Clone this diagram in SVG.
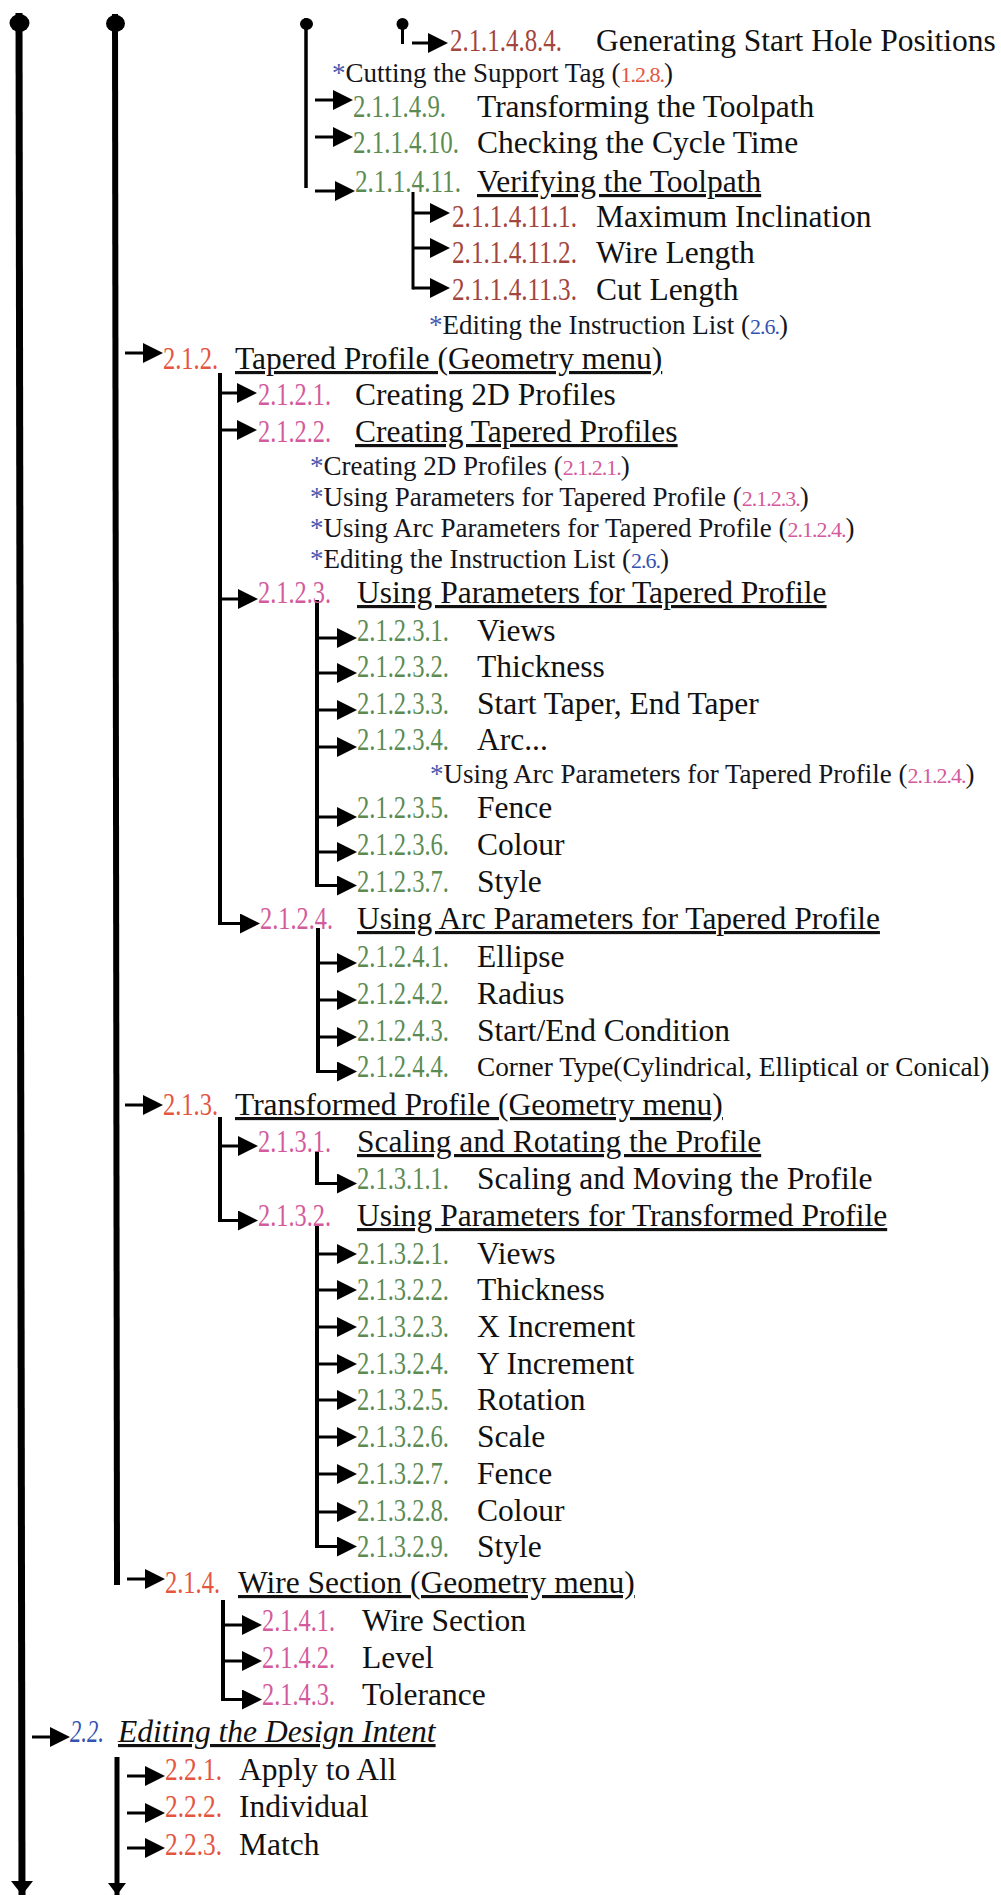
<svg xmlns="http://www.w3.org/2000/svg" width="1001" height="1895" viewBox="0 0 1001 1895">
  <style>
    text { font-family: "Liberation Serif", "Times New Roman", serif; }
    .t { font-size: 31.5px; fill: #111; }
    .u { text-decoration: underline; }
    .i { font-style: italic; }
    .s { font-size: 27px; fill: #151520; }
    .sn { font-size: 22px; letter-spacing: -1px; }
    .sm { font-size: 27.3px; fill: #111; }
    .n { font-size: 31.5px; }
    .st { fill: #4a58b0; }
    .br { fill: #a2453c; }
    .gr { fill: #5b8b52; }
    .rd { fill: #e4553f; }
    .pk { fill: #d35a9c; }
    .bl { fill: #3552b0; }
    .ar { stroke: #000; stroke-width: 3; fill: none; }
    .v { stroke: #000; fill: none; }
  </style>
  <defs>
    <marker id="ah" viewBox="0 0 20 20" refX="10" refY="10" markerWidth="20" markerHeight="20" markerUnits="userSpaceOnUse" orient="auto">
      <path d="M0,0 L20,10 L0,20 z" fill="#000"/>
    </marker>
  </defs>

  <rect width="1001" height="1895" fill="#fff"/>

  <!-- connectors: trunks, branches and arrows -->
  <g id="connectors">
    <!-- trunk caps -->
    <ellipse cx="19.5" cy="23" rx="10" ry="9" fill="#000"/>
    <ellipse cx="115.5" cy="23.5" rx="9.5" ry="8.5" fill="#000"/>
    <ellipse cx="306.5" cy="24" rx="6.5" ry="6" fill="#000"/>
    <ellipse cx="402.5" cy="24" rx="6" ry="6" fill="#000"/>
    <line class="v" x1="402.5" y1="24" x2="402.5" y2="44" stroke-width="3"/>

    <!-- vertical trunks -->
    <line class="v" x1="19" y1="13" x2="22" y2="1895" stroke-width="7"/>
    <line class="v" x1="115" y1="14" x2="117" y2="1585" stroke-width="6"/>
    <line class="v" x1="306" y1="18" x2="306" y2="188" stroke-width="3.5"/>
    <line class="v" x1="413" y1="192" x2="413" y2="289.5" stroke-width="3"/>
    <line class="v" x1="220" y1="373" x2="220" y2="925" stroke-width="4"/>
    <line class="v" x1="317" y1="600" x2="317" y2="887" stroke-width="4"/>
    <line class="v" x1="318" y1="928" x2="318" y2="1073" stroke-width="4"/>
    <line class="v" x1="220" y1="1117" x2="220" y2="1222" stroke-width="4"/>
    <line class="v" x1="317" y1="1152" x2="317" y2="1185" stroke-width="4"/>
    <line class="v" x1="317" y1="1226" x2="317" y2="1548" stroke-width="4"/>
    <line class="v" x1="223" y1="1600" x2="223" y2="1701" stroke-width="4"/>
    <line class="v" x1="117" y1="1757" x2="117" y2="1895" stroke-width="5"/>

    <!-- trunk ends -->
    <polygon points="11,1881 33,1881 22,1895" fill="#000"/>
    <polygon points="108,1883 126,1883 117,1895" fill="#000"/>

    <!-- arrows -->
    <line class="ar" x1="412" y1="43" x2="438" y2="43" marker-end="url(#ah)"/>
    <line class="ar" x1="315" y1="100" x2="343" y2="100" marker-end="url(#ah)"/>
    <line class="ar" x1="315" y1="137" x2="343" y2="137" marker-end="url(#ah)"/>
    <line class="ar" x1="315" y1="191" x2="345" y2="191" marker-end="url(#ah)"/>
    <line class="ar" x1="413" y1="213" x2="440" y2="213" marker-end="url(#ah)"/>
    <line class="ar" x1="413" y1="248" x2="440" y2="248" marker-end="url(#ah)"/>
    <line class="ar" x1="413" y1="288" x2="440" y2="288" marker-end="url(#ah)"/>

    <line class="ar" x1="125" y1="353" x2="153" y2="353" marker-end="url(#ah)"/>
    <line class="ar" x1="220" y1="393" x2="247" y2="393" marker-end="url(#ah)"/>
    <line class="ar" x1="220" y1="430" x2="247" y2="430" marker-end="url(#ah)"/>
    <line class="ar" x1="220" y1="599" x2="248" y2="599" marker-end="url(#ah)"/>
    <line class="ar" x1="317" y1="638" x2="347" y2="638" marker-end="url(#ah)"/>
    <line class="ar" x1="317" y1="673" x2="347" y2="673" marker-end="url(#ah)"/>
    <line class="ar" x1="317" y1="710" x2="347" y2="710" marker-end="url(#ah)"/>
    <line class="ar" x1="317" y1="747" x2="347" y2="747" marker-end="url(#ah)"/>
    <line class="ar" x1="317" y1="817" x2="347" y2="817" marker-end="url(#ah)"/>
    <line class="ar" x1="317" y1="852" x2="347" y2="852" marker-end="url(#ah)"/>
    <line class="ar" x1="317" y1="885.5" x2="347" y2="885.5" marker-end="url(#ah)"/>
    <line class="ar" x1="220" y1="923.5" x2="250" y2="923.5" marker-end="url(#ah)"/>
    <line class="ar" x1="318" y1="963" x2="347" y2="963" marker-end="url(#ah)"/>
    <line class="ar" x1="318" y1="1000" x2="347" y2="1000" marker-end="url(#ah)"/>
    <line class="ar" x1="318" y1="1037" x2="347" y2="1037" marker-end="url(#ah)"/>
    <line class="ar" x1="318" y1="1071.5" x2="347" y2="1071.5" marker-end="url(#ah)"/>

    <line class="ar" x1="125" y1="1105" x2="153" y2="1105" marker-end="url(#ah)"/>
    <line class="ar" x1="220" y1="1146" x2="248" y2="1146" marker-end="url(#ah)"/>
    <line class="ar" x1="317" y1="1183.5" x2="347" y2="1183.5" marker-end="url(#ah)"/>
    <line class="ar" x1="220" y1="1220.5" x2="248" y2="1220.5" marker-end="url(#ah)"/>
    <line class="ar" x1="317" y1="1254" x2="347" y2="1254" marker-end="url(#ah)"/>
    <line class="ar" x1="317" y1="1290" x2="347" y2="1290" marker-end="url(#ah)"/>
    <line class="ar" x1="317" y1="1327" x2="347" y2="1327" marker-end="url(#ah)"/>
    <line class="ar" x1="317" y1="1364" x2="347" y2="1364" marker-end="url(#ah)"/>
    <line class="ar" x1="317" y1="1400" x2="347" y2="1400" marker-end="url(#ah)"/>
    <line class="ar" x1="317" y1="1437" x2="347" y2="1437" marker-end="url(#ah)"/>
    <line class="ar" x1="317" y1="1474" x2="347" y2="1474" marker-end="url(#ah)"/>
    <line class="ar" x1="317" y1="1512" x2="347" y2="1512" marker-end="url(#ah)"/>
    <line class="ar" x1="317" y1="1546.5" x2="347" y2="1546.5" marker-end="url(#ah)"/>

    <line class="ar" x1="127" y1="1579" x2="155" y2="1579" marker-end="url(#ah)"/>
    <line class="ar" x1="223" y1="1625" x2="252" y2="1625" marker-end="url(#ah)"/>
    <line class="ar" x1="223" y1="1661" x2="252" y2="1661" marker-end="url(#ah)"/>
    <line class="ar" x1="223" y1="1699.5" x2="252" y2="1699.5" marker-end="url(#ah)"/>

    <line class="ar" x1="32" y1="1737" x2="60" y2="1737" marker-end="url(#ah)"/>
    <line class="ar" x1="127" y1="1776" x2="155" y2="1776" marker-end="url(#ah)"/>
    <line class="ar" x1="127" y1="1813" x2="155" y2="1813" marker-end="url(#ah)"/>
    <line class="ar" x1="127" y1="1848" x2="155" y2="1848" marker-end="url(#ah)"/>
  </g>

  <!-- 2.1.1.4 branch -->
  <g id="n2114-8-4">
    <text class="n br" x="450" y="51" textLength="112" lengthAdjust="spacingAndGlyphs">2.1.1.4.8.4.</text>
    <text class="t" x="596" y="51">Generating Start Hole Positions</text>
  </g>
  <g id="ref-support-tag">
    <text class="s" x="332" y="82"><tspan class="st">*</tspan>Cutting the Support Tag (<tspan class="sn rd">1.2.8.</tspan>)</text>
  </g>
  <g id="n2114-9">
    <text class="n gr" x="353" y="117" textLength="93" lengthAdjust="spacingAndGlyphs">2.1.1.4.9.</text>
    <text class="t" x="477" y="117">Transforming the Toolpath</text>
  </g>
  <g id="n2114-10">
    <text class="n gr" x="353" y="153" textLength="106" lengthAdjust="spacingAndGlyphs">2.1.1.4.10.</text>
    <text class="t" x="477" y="153">Checking the Cycle Time</text>
  </g>
  <g id="n2114-11">
    <text class="n gr" x="355" y="192" textLength="106" lengthAdjust="spacingAndGlyphs">2.1.1.4.11.</text>
    <text class="t u" x="477" y="192">Verifying the Toolpath</text>
  </g>
  <g id="n2114-11-1">
    <text class="n br" x="452" y="227" textLength="125" lengthAdjust="spacingAndGlyphs">2.1.1.4.11.1.</text>
    <text class="t" x="596" y="227">Maximum Inclination</text>
  </g>
  <g id="n2114-11-2">
    <text class="n br" x="452" y="263" textLength="125" lengthAdjust="spacingAndGlyphs">2.1.1.4.11.2.</text>
    <text class="t" x="596" y="263">Wire Length</text>
  </g>
  <g id="n2114-11-3">
    <text class="n br" x="452" y="300" textLength="125" lengthAdjust="spacingAndGlyphs">2.1.1.4.11.3.</text>
    <text class="t" x="596" y="300">Cut Length</text>
  </g>
  <g id="ref-instruction-list-a">
    <text class="s" x="429" y="334"><tspan class="st">*</tspan>Editing the Instruction List (<tspan class="sn bl">2.6.</tspan>)</text>
  </g>

  <!-- 2.1.2 Tapered Profile -->
  <g id="n212">
    <text class="n rd" x="163" y="369" textLength="55" lengthAdjust="spacingAndGlyphs">2.1.2.</text>
    <text class="t u" x="235" y="369">Tapered Profile (Geometry menu)</text>
  </g>
  <g id="n2121">
    <text class="n pk" x="258" y="405" textLength="73" lengthAdjust="spacingAndGlyphs">2.1.2.1.</text>
    <text class="t" x="355" y="405">Creating 2D Profiles</text>
  </g>
  <g id="n2122">
    <text class="n pk" x="258" y="442" textLength="73" lengthAdjust="spacingAndGlyphs">2.1.2.2.</text>
    <text class="t u" x="355" y="442">Creating Tapered Profiles</text>
  </g>
  <g id="ref-2d-profiles">
    <text class="s" x="310" y="475"><tspan class="st">*</tspan>Creating 2D Profiles (<tspan class="sn pk">2.1.2.1.</tspan>)</text>
  </g>
  <g id="ref-params-tapered">
    <text class="s" x="310" y="506"><tspan class="st">*</tspan>Using Parameters for Tapered Profile (<tspan class="sn pk">2.1.2.3.</tspan>)</text>
  </g>
  <g id="ref-arc-params-tapered-a">
    <text class="s" x="310" y="537"><tspan class="st">*</tspan>Using Arc Parameters for Tapered Profile (<tspan class="sn pk">2.1.2.4.</tspan>)</text>
  </g>
  <g id="ref-instruction-list-b">
    <text class="s" x="310" y="568"><tspan class="st">*</tspan>Editing the Instruction List (<tspan class="sn bl">2.6.</tspan>)</text>
  </g>
  <g id="n2123">
    <text class="n pk" x="258" y="603" textLength="73" lengthAdjust="spacingAndGlyphs">2.1.2.3.</text>
    <text class="t u" x="357" y="603">Using Parameters for Tapered Profile</text>
  </g>
  <g id="n2123-1">
    <text class="n gr" x="357" y="641" textLength="92" lengthAdjust="spacingAndGlyphs">2.1.2.3.1.</text>
    <text class="t" x="477" y="641">Views</text>
  </g>
  <g id="n2123-2">
    <text class="n gr" x="357" y="677" textLength="92" lengthAdjust="spacingAndGlyphs">2.1.2.3.2.</text>
    <text class="t" x="477" y="677">Thickness</text>
  </g>
  <g id="n2123-3">
    <text class="n gr" x="357" y="714" textLength="92" lengthAdjust="spacingAndGlyphs">2.1.2.3.3.</text>
    <text class="t" x="477" y="714">Start Taper, End Taper</text>
  </g>
  <g id="n2123-4">
    <text class="n gr" x="357" y="750" textLength="92" lengthAdjust="spacingAndGlyphs">2.1.2.3.4.</text>
    <text class="t" x="477" y="750">Arc...</text>
  </g>
  <g id="ref-arc-params-tapered-b">
    <text class="s" x="430" y="783"><tspan class="st">*</tspan>Using Arc Parameters for Tapered Profile (<tspan class="sn pk">2.1.2.4.</tspan>)</text>
  </g>
  <g id="n2123-5">
    <text class="n gr" x="357" y="818" textLength="92" lengthAdjust="spacingAndGlyphs">2.1.2.3.5.</text>
    <text class="t" x="477" y="818">Fence</text>
  </g>
  <g id="n2123-6">
    <text class="n gr" x="357" y="855" textLength="92" lengthAdjust="spacingAndGlyphs">2.1.2.3.6.</text>
    <text class="t" x="477" y="855">Colour</text>
  </g>
  <g id="n2123-7">
    <text class="n gr" x="357" y="892" textLength="92" lengthAdjust="spacingAndGlyphs">2.1.2.3.7.</text>
    <text class="t" x="477" y="892">Style</text>
  </g>
  <g id="n2124">
    <text class="n pk" x="260" y="929" textLength="73" lengthAdjust="spacingAndGlyphs">2.1.2.4.</text>
    <text class="t u" x="357" y="929">Using Arc Parameters for Tapered Profile</text>
  </g>
  <g id="n2124-1">
    <text class="n gr" x="357" y="967" textLength="92" lengthAdjust="spacingAndGlyphs">2.1.2.4.1.</text>
    <text class="t" x="477" y="967">Ellipse</text>
  </g>
  <g id="n2124-2">
    <text class="n gr" x="357" y="1004" textLength="92" lengthAdjust="spacingAndGlyphs">2.1.2.4.2.</text>
    <text class="t" x="477" y="1004">Radius</text>
  </g>
  <g id="n2124-3">
    <text class="n gr" x="357" y="1041" textLength="92" lengthAdjust="spacingAndGlyphs">2.1.2.4.3.</text>
    <text class="t" x="477" y="1041">Start/End Condition</text>
  </g>
  <g id="n2124-4">
    <text class="n gr" x="357" y="1077" textLength="92" lengthAdjust="spacingAndGlyphs">2.1.2.4.4.</text>
    <text class="sm" x="477" y="1076">Corner Type(Cylindrical, Elliptical or Conical)</text>
  </g>

  <!-- 2.1.3 Transformed Profile -->
  <g id="n213">
    <text class="n rd" x="163" y="1115" textLength="55" lengthAdjust="spacingAndGlyphs">2.1.3.</text>
    <text class="t u" x="235" y="1115">Transformed Profile (Geometry menu)</text>
  </g>
  <g id="n2131">
    <text class="n pk" x="258" y="1152" textLength="73" lengthAdjust="spacingAndGlyphs">2.1.3.1.</text>
    <text class="t u" x="357" y="1152">Scaling and Rotating the Profile</text>
  </g>
  <g id="n2131-1">
    <text class="n gr" x="357" y="1189" textLength="92" lengthAdjust="spacingAndGlyphs">2.1.3.1.1.</text>
    <text class="t" x="477" y="1189">Scaling and Moving the Profile</text>
  </g>
  <g id="n2132">
    <text class="n pk" x="258" y="1226" textLength="73" lengthAdjust="spacingAndGlyphs">2.1.3.2.</text>
    <text class="t u" x="357" y="1226">Using Parameters for Transformed Profile</text>
  </g>
  <g id="n2132-1">
    <text class="n gr" x="357" y="1264" textLength="92" lengthAdjust="spacingAndGlyphs">2.1.3.2.1.</text>
    <text class="t" x="477" y="1264">Views</text>
  </g>
  <g id="n2132-2">
    <text class="n gr" x="357" y="1300" textLength="92" lengthAdjust="spacingAndGlyphs">2.1.3.2.2.</text>
    <text class="t" x="477" y="1300">Thickness</text>
  </g>
  <g id="n2132-3">
    <text class="n gr" x="357" y="1337" textLength="92" lengthAdjust="spacingAndGlyphs">2.1.3.2.3.</text>
    <text class="t" x="477" y="1337">X Increment</text>
  </g>
  <g id="n2132-4">
    <text class="n gr" x="357" y="1374" textLength="92" lengthAdjust="spacingAndGlyphs">2.1.3.2.4.</text>
    <text class="t" x="477" y="1374">Y Increment</text>
  </g>
  <g id="n2132-5">
    <text class="n gr" x="357" y="1410" textLength="92" lengthAdjust="spacingAndGlyphs">2.1.3.2.5.</text>
    <text class="t" x="477" y="1410">Rotation</text>
  </g>
  <g id="n2132-6">
    <text class="n gr" x="357" y="1447" textLength="92" lengthAdjust="spacingAndGlyphs">2.1.3.2.6.</text>
    <text class="t" x="477" y="1447">Scale</text>
  </g>
  <g id="n2132-7">
    <text class="n gr" x="357" y="1484" textLength="92" lengthAdjust="spacingAndGlyphs">2.1.3.2.7.</text>
    <text class="t" x="477" y="1484">Fence</text>
  </g>
  <g id="n2132-8">
    <text class="n gr" x="357" y="1521" textLength="92" lengthAdjust="spacingAndGlyphs">2.1.3.2.8.</text>
    <text class="t" x="477" y="1521">Colour</text>
  </g>
  <g id="n2132-9">
    <text class="n gr" x="357" y="1557" textLength="92" lengthAdjust="spacingAndGlyphs">2.1.3.2.9.</text>
    <text class="t" x="477" y="1557">Style</text>
  </g>

  <!-- 2.1.4 Wire Section -->
  <g id="n214">
    <text class="n rd" x="165" y="1593" textLength="55" lengthAdjust="spacingAndGlyphs">2.1.4.</text>
    <text class="t u" x="238" y="1593">Wire Section (Geometry menu)</text>
  </g>
  <g id="n2141">
    <text class="n pk" x="262" y="1631" textLength="73" lengthAdjust="spacingAndGlyphs">2.1.4.1.</text>
    <text class="t" x="362" y="1631">Wire Section</text>
  </g>
  <g id="n2142">
    <text class="n pk" x="262" y="1668" textLength="73" lengthAdjust="spacingAndGlyphs">2.1.4.2.</text>
    <text class="t" x="362" y="1668">Level</text>
  </g>
  <g id="n2143">
    <text class="n pk" x="262" y="1705" textLength="73" lengthAdjust="spacingAndGlyphs">2.1.4.3.</text>
    <text class="t" x="362" y="1705">Tolerance</text>
  </g>

  <!-- 2.2 Editing the Design Intent -->
  <g id="n22">
    <text class="n bl i" x="70" y="1742" textLength="34" lengthAdjust="spacingAndGlyphs">2.2.</text>
    <text class="t u i" x="118" y="1742">Editing the Design Intent</text>
  </g>
  <g id="n221">
    <text class="n rd" x="165" y="1780" textLength="57" lengthAdjust="spacingAndGlyphs">2.2.1.</text>
    <text class="t" x="239" y="1780">Apply to All</text>
  </g>
  <g id="n222">
    <text class="n rd" x="165" y="1817" textLength="57" lengthAdjust="spacingAndGlyphs">2.2.2.</text>
    <text class="t" x="239" y="1817">Individual</text>
  </g>
  <g id="n223">
    <text class="n rd" x="165" y="1855" textLength="57" lengthAdjust="spacingAndGlyphs">2.2.3.</text>
    <text class="t" x="239" y="1855">Match</text>
  </g>
</svg>
